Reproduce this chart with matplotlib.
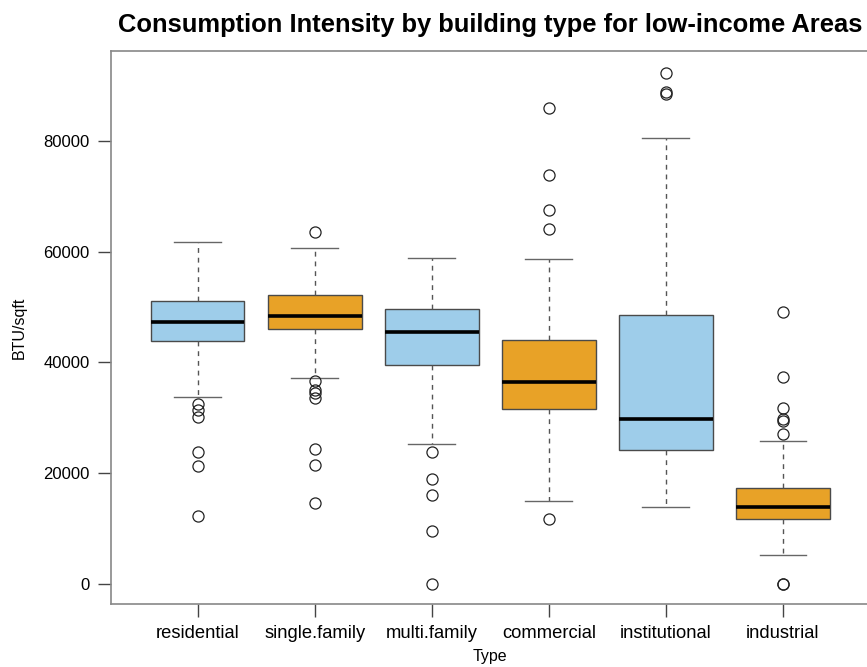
import matplotlib
matplotlib.use("Agg")
import matplotlib.pyplot as plt

plt.rcParams.update({
    "font.family": "Liberation Sans",
    "font.size": 12,
})

types = ["residential", "single.family", "multi.family", "commercial", "institutional", "industrial"]
box_colors = ["#9ECDEA", "#E8A227", "#9ECDEA", "#E8A227", "#9ECDEA", "#E8A227"]

# five-number summaries (BTU/sqft)
whislo = [33700, 37100, 25200, 14900, 13800, 5200]
q1 = [43900, 46000, 39500, 31500, 24100, 11600]
med = [47300, 48300, 45400, 36500, 29700, 13800]
q3 = [51100, 52100, 49700, 44000, 48500, 17300]
whishi = [61700, 60600, 58800, 58700, 80500, 25800]

outliers = [
    [32500, 31300, 30100, 23800, 21300, 12300],
    [63500, 36700, 35000, 34500, 33500, 24300, 21400, 14500],
    [23700, 18900, 16100, 9600, 0],
    [85900, 73800, 67500, 64100, 11700],
    [92300, 88800, 88400],
    [49100, 37300, 31700, 29800, 29400, 27100, 0, 0],
]

stats = []
for i, name in enumerate(types):
    stats.append({
        "label": name,
        "whislo": whislo[i], "q1": q1[i], "med": med[i],
        "q3": q3[i], "whishi": whishi[i], "fliers": outliers[i],
    })

fig = plt.figure(figsize=(8.67, 6.67), dpi=100)
ax = fig.add_axes([0.128, 0.095, 0.875, 0.828])

bp = ax.bxp(
    stats, positions=range(1, len(types) + 1), widths=0.8, patch_artist=True,
    boxprops=dict(edgecolor="#4a4a4a", linewidth=1.0),
    medianprops=dict(color="black", linewidth=2.6, solid_capstyle="butt"),
    whiskerprops=dict(color="#555555", linewidth=1.0, linestyle=(0, (3.5, 3.5))),
    capprops=dict(color="#666666", linewidth=1.0),
    capwidths=0.4,
    flierprops=dict(marker="o", markerfacecolor="none", markeredgecolor="#222222",
                    markersize=8, markeredgewidth=0.9, linestyle="none"),
)
for patch, c in zip(bp["boxes"], box_colors):
    patch.set_facecolor(c)

ax.set_xlim(0.26, 6.74)
ax.set_ylim(-3600, 96150)
ax.set_yticks([0, 20000, 40000, 60000, 80000])
ax.set_yticklabels(["0", "20000", "40000", "60000", "80000"])
ax.tick_params(axis="both", length=9.5, width=1.0, color="#444444", pad=6)
ax.tick_params(axis="x", labelsize=13.2)
ax.tick_params(axis="y", labelsize=12)

for sp in ax.spines.values():
    sp.set_color("#888888")
    sp.set_linewidth(1.2)

ax.set_ylabel("BTU/sqft", fontsize=11.5, labelpad=12)
ax.set_xlabel("Type", fontsize=11.5, labelpad=5)
ax.set_title("Consumption Intensity by building type for low-income Areas",
             fontsize=18.4, fontweight="bold", pad=14)

fig.savefig("out.png", dpi=100, facecolor="white")
